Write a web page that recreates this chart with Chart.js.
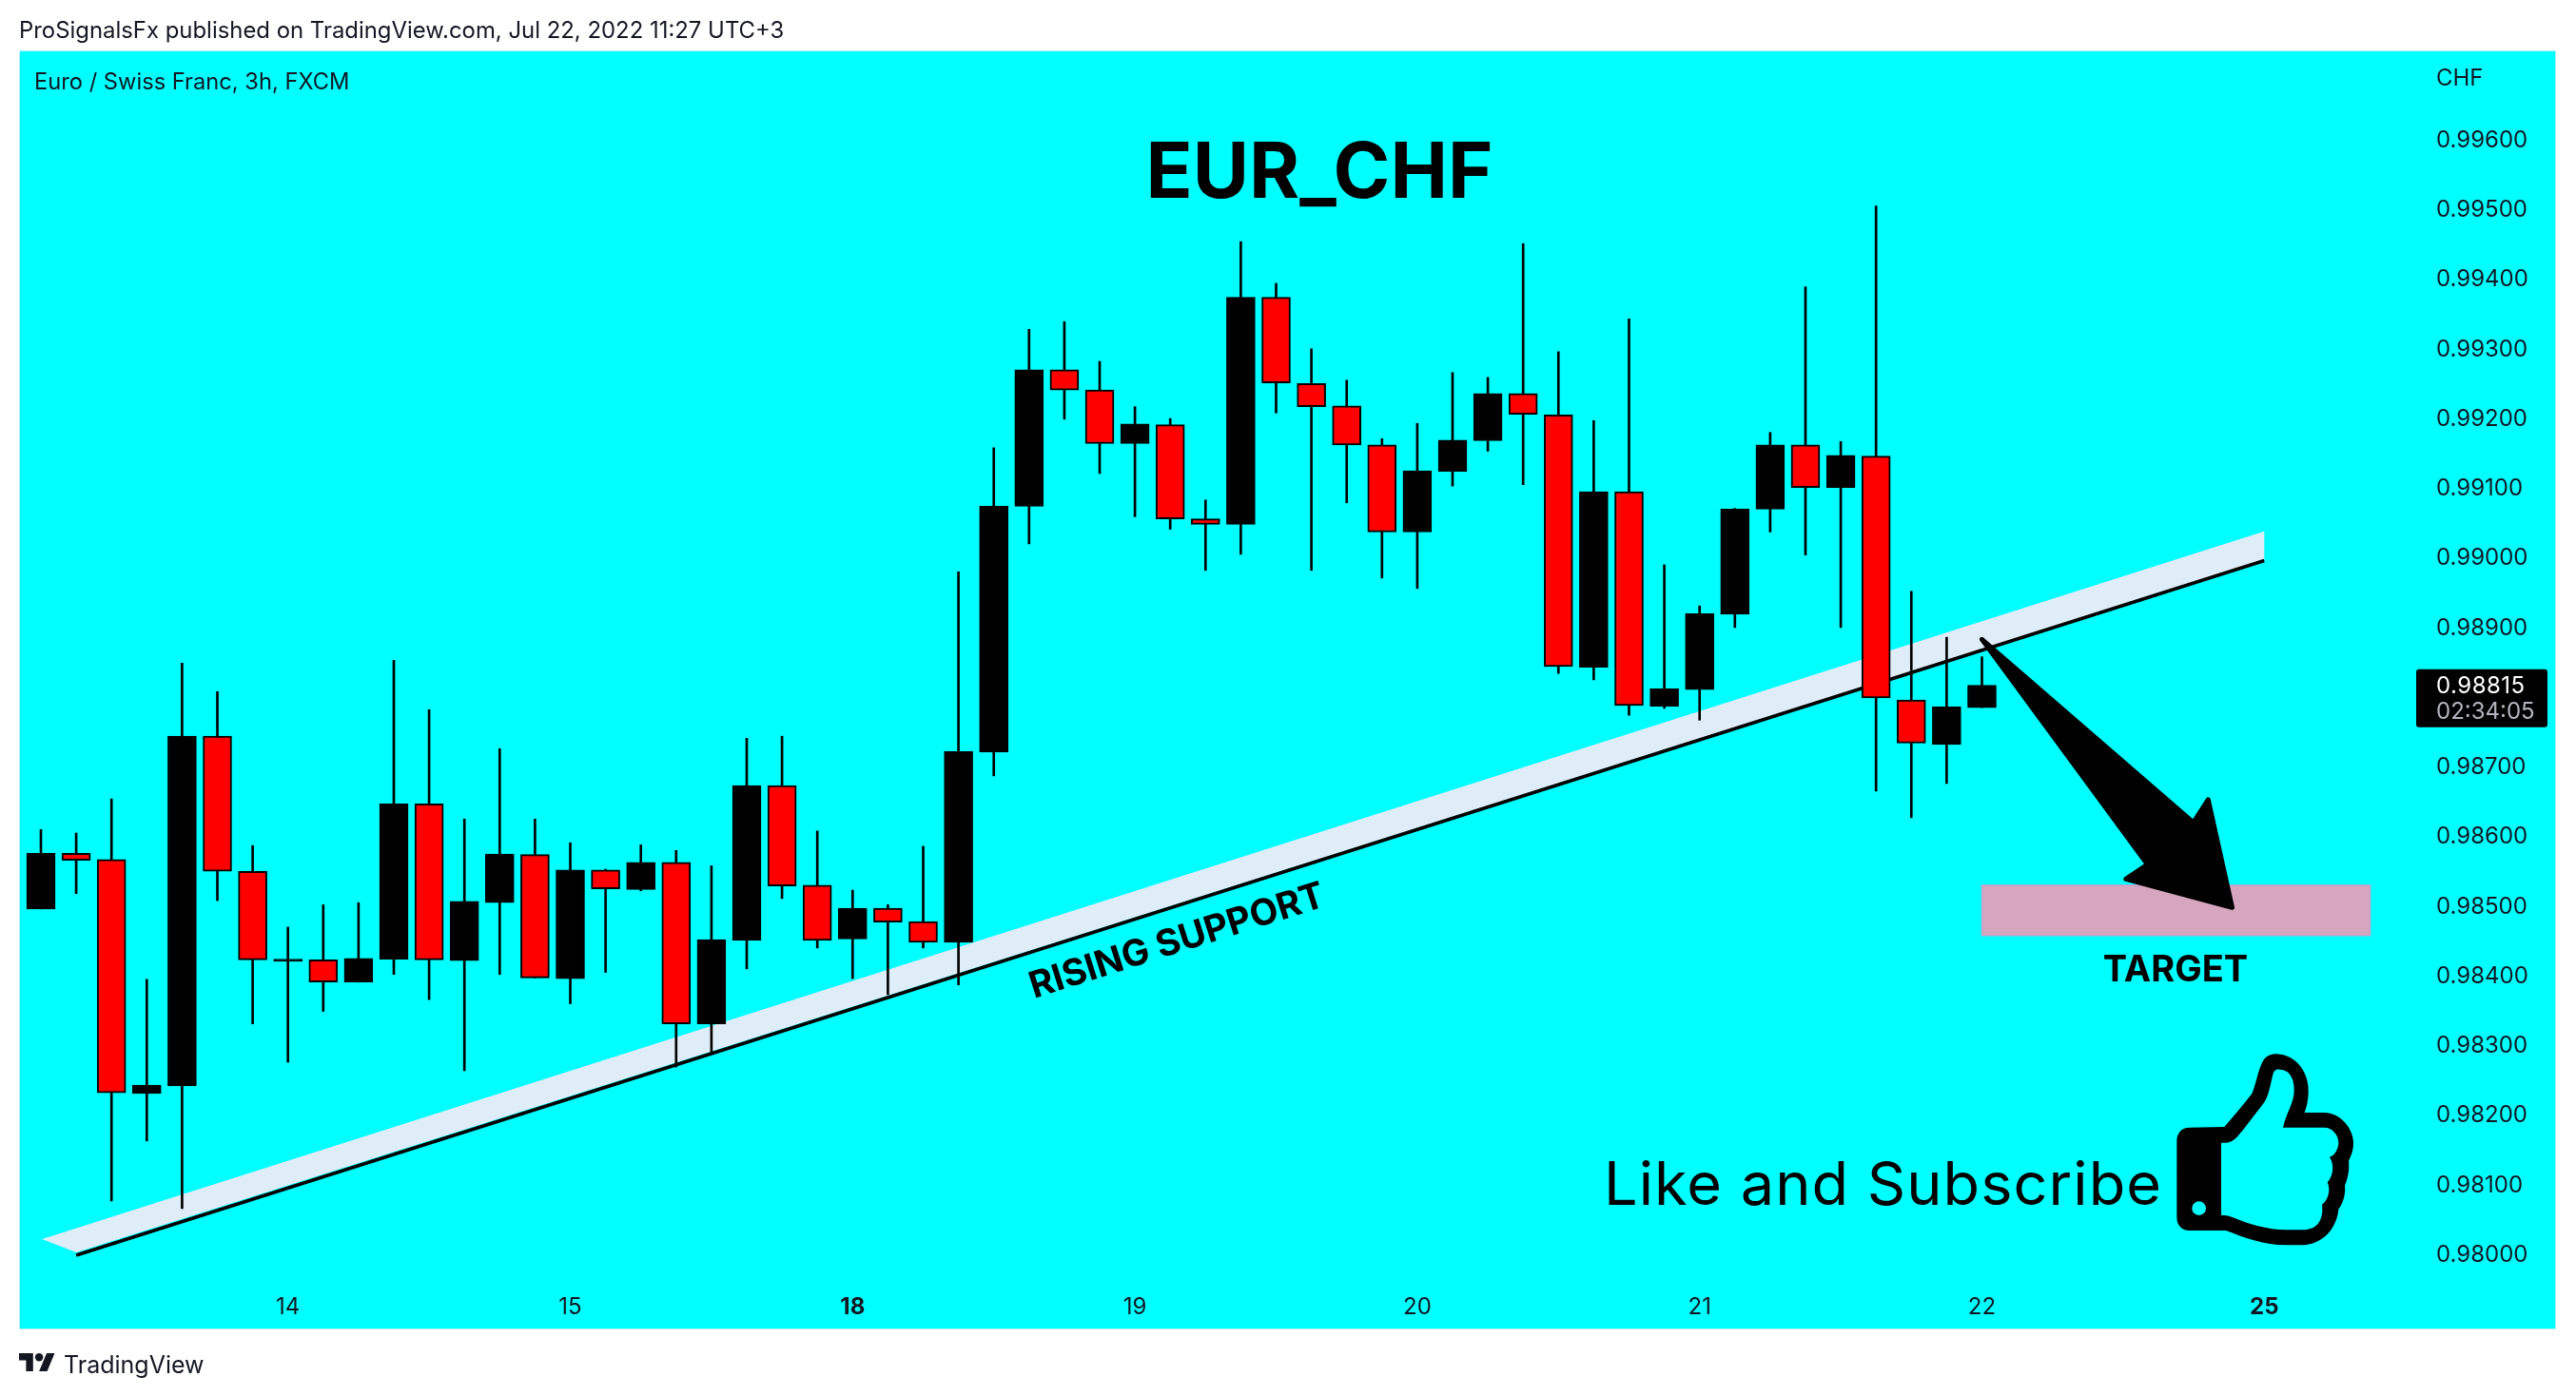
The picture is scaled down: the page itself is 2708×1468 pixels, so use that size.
<!DOCTYPE html>
<html><head><meta charset="utf-8">
<script src="https://cdn.jsdelivr.net/npm/chart.js@4"></script>
<style>
html,body{margin:0;padding:0;background:#fff;width:2708px;height:1468px;overflow:hidden;font-family:Inter,sans-serif;color:#131722}
#panel{position:absolute;left:20px;top:53px;width:2667px;height:1345px;background:#00ffff;box-sizing:border-box;border:1px solid #b8f0f4}
#c{position:absolute;left:0;top:0}
.t{position:absolute;white-space:nowrap;font-size:23.9px;line-height:30px}
#thumb{position:absolute;left:2270px;top:1090px;width:240px;height:240px}
#logo{position:absolute;left:20px;top:1418px;width:38px;height:29px}
</style></head><body>
<div id="panel"></div>
<canvas id="c" width="2708" height="1468"></canvas>
<div class="t" style="left:20px;top:17px">ProSignalsFx published on TradingView.com, Jul 22, 2022 11:27 UTC+3</div>
<div class="t" style="left:67px;top:1420px;font-size:25px">TradingView</div>
<svg id="logo" viewBox="0 3 36 20"><path fill="#131722" d="M14 22H7V11H0V4h14v18zM28 22h-8l7.5-18h8L28 22z"/><circle fill="#131722" cx="20" cy="8" r="4"/></svg>
<svg id="thumb" viewBox="0 0 720 720"><path fill="#000" fill-rule="evenodd" d="M95 287L205 285C235 250 265 215 292 180C305 150 310 110 325 80C335 62 350 55 370 55C430 58 470 110 470 170C470 200 465 220 458 240L520 240C570 240 612 290 612 335C612 360 605 375 597 392C600 420 595 445 585 470C588 495 580 525 565 545C560 600 520 658 445 658L400 658C330 658 270 635 210 612L95 612C70 612 55 595 55 570L55 330C55 305 70 287 95 287Z M195 335L210 335C235 335 250 310 262 297L325 215C345 195 350 150 358 120C362 105 370 102 380 104C410 105 425 130 425 170C425 210 400 240 390 287L520 287C545 287 565 310 565 335C565 350 555 375 537 380C550 400 552 435 530 460C540 480 535 515 513 530C518 570 505 610 450 610L400 610C340 610 280 590 230 570C220 565 205 563 195 563Z M147 542A22 22 0 1 0 103 542A22 22 0 1 0 147 542Z"/></svg>
<script>
const dayLabels = ['14','15','18','19','20','21','22','25'];
const boldDays = ['18','25'];
const opens  = [.98494,.98574,.98565,.98229,.98240,.98742,.98548,.98419,.98421,.98389,.98422,.98645,.98420,.98503,.98572,.98394,.98550,.98522,.98561,.98329,.98449,.98671,.98528,.98451,.98495,.98476,.98446,.98719,.99072,.99268,.99239,.99162,.99189,.99054,.99046,.99372,.99248,.99216,.99160,.99035,.99122,.99166,.99234,.99203,.98841,.99093,.98785,.98809,.98917,.99068,.99160,.99099,.99144,.98794,.98730,.98783];
const closes = [.98574,.98564,.98230,.98241,.98742,.98548,.98421,.98422,.98389,.98423,.98645,.98421,.98505,.98573,.98395,.98550,.98523,.98561,.98329,.98450,.98671,.98527,.98449,.98495,.98475,.98446,.98720,.99072,.99268,.99239,.99162,.99190,.99054,.99046,.99372,.99249,.99215,.99160,.99035,.99123,.99167,.99234,.99204,.98842,.99093,.98786,.98810,.98918,.99068,.99160,.99099,.99145,.98797,.98732,.98784,.98815];
const highs  = [.98608,.98603,.98652,.98393,.98847,.98806,.98585,.98468,.98500,.98503,.98851,.98780,.98623,.98724,.98623,.98589,.98551,.98586,.98578,.98556,.98739,.98742,.98606,.98521,.98500,.98584,.98978,.99156,.99326,.99337,.99280,.99215,.99198,.99081,.99452,.99392,.99298,.99253,.99169,.99191,.99264,.99257,.99449,.99294,.99195,.99341,.98988,.98929,.99069,.99178,.99387,.99165,.99503,.98950,.98884,.98856];
const lows   = [.98494,.98516,.98075,.98161,.98064,.98506,.98329,.98274,.98347,.98389,.98400,.98364,.98262,.98400,.98395,.98358,.98403,.98520,.98267,.98289,.98408,.98509,.98438,.98394,.98371,.98438,.98385,.98685,.99018,.99197,.99119,.99057,.99039,.98980,.99003,.99206,.98980,.99077,.98969,.98954,.99101,.99151,.99103,.98832,.98823,.98772,.98782,.98765,.98898,.99035,.99002,.98898,.98663,.98625,.98674,.98783];
const lastPrice = 0.98815;
const countdown = '02:34:05';
const trendX = [2,64];
const trendY = [.97997,.98994];
const bandX = [1.03,64,64,2];
const bandY = [.98020,.99036,.98995,.98001];
const targetX = [56,67];
const targetY = [.98528,.98456];
const arrowX = [56,61.99,62.41,63.09,60.08,60.69];
const arrowY = [.98881,.98618,.98651,.98496,.98537,.98558];
const seq = opens.map((_,i)=>i+1);
const INK='#131722', FONT='Inter, sans-serif';

const drawings = {
  id:'drawings',
  beforeDatasetsDraw(chart){
    const {ctx,scales:{x,y}} = chart;
    ctx.save();
    ctx.fillStyle='#dfedf8';
    ctx.beginPath();
    bandX.forEach((v,i)=>{const px=x.getPixelForValue(v),py=y.getPixelForValue(bandY[i]); i?ctx.lineTo(px,py):ctx.moveTo(px,py);});
    ctx.closePath();ctx.fill();
    const x0=x.getPixelForValue(targetX[0]),x1=x.getPixelForValue(targetX[1]),y0=y.getPixelForValue(targetY[0]),y1=y.getPixelForValue(targetY[1]);
    ctx.fillStyle='#d5a6bd';ctx.fillRect(x0,y0,x1-x0,y1-y0);
    ctx.strokeStyle='#c99fca';ctx.lineWidth=1.5;ctx.strokeRect(x0,y0,x1-x0,y1-y0);
    ctx.restore();
  },
  afterDatasetsDraw(chart){
    const {ctx,scales:{x,y}} = chart;
    ctx.save();
    ctx.fillStyle='#000';ctx.strokeStyle='#000';ctx.lineWidth=5;ctx.lineJoin='round';
    ctx.beginPath();
    arrowX.forEach((v,i)=>{const px=x.getPixelForValue(v),py=y.getPixelForValue(arrowY[i]); i?ctx.lineTo(px,py):ctx.moveTo(px,py);});
    ctx.closePath();ctx.fill();ctx.stroke();
    ctx.textBaseline='alphabetic';
    ctx.textAlign='center';ctx.font='700 81px '+FONT;ctx.fillText('EUR_CHF',1387,208);
    ctx.font='700 38px '+FONT;ctx.fillText('TARGET',2287,1032);
    ctx.textAlign='left';ctx.font='400 63px '+FONT;ctx.letterSpacing='1.05px';ctx.fillText('Like and Subscribe',1686,1267);ctx.letterSpacing='0px';
    ctx.save();ctx.translate(1087,1050);ctx.rotate(-17.6*Math.PI/180);ctx.font='700 38.5px '+FONT;ctx.fillText('RISING SUPPORT',0,0);ctx.restore();
    ctx.fillStyle=INK;ctx.font='400 23.7px '+FONT;ctx.textBaseline='middle';
    ctx.fillText('Euro / Swiss Franc, 3h, FXCM',36,87);
    ctx.font='400 24px '+FONT;
    ctx.fillText('CHF',2561,83);
    const ly=y.getPixelForValue(lastPrice), ax=chart.chartArea.right;
    ctx.fillStyle='#000';ctx.beginPath();ctx.roundRect(ax,ly-17,138,61,3);ctx.fill();
    ctx.fillStyle='#fff';ctx.letterSpacing='0.5px';ctx.fillText(lastPrice.toFixed(5),2561,ly+1);ctx.letterSpacing='0px';
    ctx.fillStyle='#b2b5be';ctx.fillText(countdown,2561,ly+28);
    ctx.restore();
  }
};

new Chart(document.getElementById('c'),{
  data:{datasets:[
    {type:'bar',label:'Body',order:0,grouped:false,barThickness:30,borderWidth:2,borderSkipped:false,borderColor:'#000',
     backgroundColor:opens.map((o,i)=>closes[i]>=o?'#000000':'#ff0000'),
     data:seq.map((v,i)=>({x:v,y:[opens[i],closes[i]]}))},
    {type:'bar',label:'Wick',order:1,grouped:false,barThickness:2,borderWidth:0,backgroundColor:'#000',
     data:seq.map((v,i)=>({x:v,y:[lows[i],highs[i]]}))},
    {type:'line',label:'Rising support',order:2,borderColor:'#000',borderWidth:3.5,pointRadius:0,fill:false,
     data:trendX.map((v,i)=>({x:v,y:trendY[i]}))}
  ]},
  options:{
    responsive:false,animation:false,devicePixelRatio:1,
    layout:{padding:{left:20,right:21,top:80,bottom:69}},
    plugins:{legend:{display:false},tooltip:{enabled:false},title:{display:false}},
    scales:{
      x:{type:'linear',offset:false,min:0.38,max:68.305,grid:{display:false,drawTicks:false,offset:false},border:{display:false},
        afterFit(s){s.height=49;},
        ticks:{stepSize:8,includeBounds:false,maxRotation:0,autoSkip:false,padding:10,color:INK,
          callback:v=>dayLabels[v/8-1]??'',
          font:c=>({family:FONT,size:24,weight:(c.tick&&boldDays.includes(dayLabels[c.tick.value/8-1]))?'700':'400'})}},
      y:{type:'linear',position:'right',min:0.97956,max:0.996895,grid:{display:false,drawTicks:false},border:{display:false},
        afterFit(s){s.width=147;},
        ticks:{stepSize:0.001,includeBounds:false,padding:21,labelOffset:2,color:INK,font:{family:FONT,size:24},
          callback:v=>Number(v).toFixed(5)}}
    }
  },
  plugins:[drawings]
});
</script>
</body></html>
